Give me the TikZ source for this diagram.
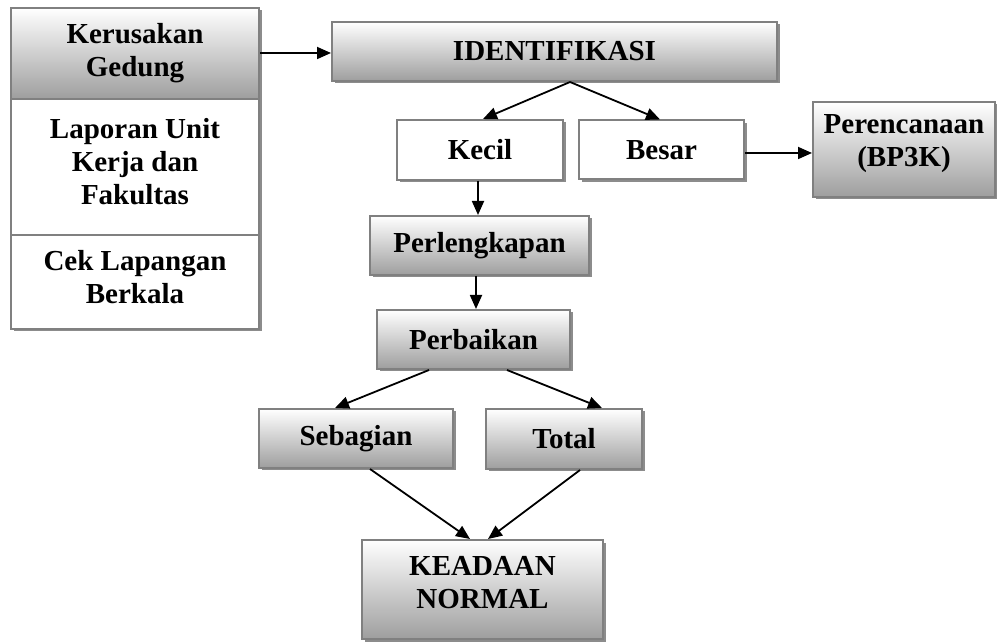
\documentclass[tikz,border=0pt]{standalone}
\usepackage{fontspec}
\setmainfont{Liberation Serif}
\usetikzlibrary{arrows.meta,calc}
% raise a centred block of lines inside a box, keeping its reported size
\newcommand\liftbox[2]{\raisebox{#1}[\height][\depth]{\begin{tabular}{@{}c@{}}#2\end{tabular}}}
\begin{document}
\begin{tikzpicture}[x=1pt,y=-1pt,
  every node/.style={font=\fontsize{29}{33}\selectfont\bfseries, align=center, inner sep=0pt},
  base/.style={draw=black!50, line width=2pt, rectangle,
    preaction={fill=black!45, transform canvas={xshift=2.5pt,yshift=-2.5pt}}},
  shadebox/.style={base, top color=white, bottom color=black!38},
  plainbox/.style={base, fill=white},
  arr/.style={draw=black, line width=1.8pt, -{Triangle[length=14pt,width=12pt]}}
]
\useasboundingbox (0,0) rectangle (997,644);

% left column: source of damage reports
\node[shadebox, minimum width=248pt, minimum height=91pt] (kg) at (135,53.5) {Kerusakan\\Gedung};
\node[plainbox, minimum width=248pt, minimum height=136pt] (lap) at (135,167) {\liftbox{2pt}{Laporan Unit\\Kerja dan\\Fakultas}};
\node[plainbox, minimum width=248pt, minimum height=94pt] (cek) at (135,282) {\liftbox{2pt}{Cek Lapangan\\Berkala}};

% main flow
\node[shadebox, minimum width=445pt, minimum height=59pt] (iden) at (554.5,51.5) {IDENTIFIKASI};
\node[plainbox, minimum width=166pt, minimum height=60pt] (kecil) at (480,150) {Kecil};
\node[plainbox, minimum width=165pt, minimum height=59pt] (besar) at (661.5,150) {Besar};
\node[shadebox, minimum width=182pt, minimum height=95pt] (per) at (904,149.5) {\liftbox{6pt}{Perencanaan\\(BP3K)}};
\node[shadebox, minimum width=219pt, minimum height=59pt] (perl) at (479.5,245.5) {Perlengkapan};
\node[shadebox, minimum width=193pt, minimum height=59pt] (perb) at (473.5,339.5) {Perbaikan};
\node[shadebox, minimum width=194pt, minimum height=59pt] (seb) at (356,438.5) {Sebagian};
\node[shadebox, minimum width=156pt, minimum height=60pt] (tot) at (564,439) {Total};
\node[shadebox, minimum width=241pt, minimum height=99pt] (kn) at (482.5,589.5) {\liftbox{4pt}{KEADAAN\\NORMAL}};

% connector end points on the box edges
\coordinate (kgA) at (kg.east |- 0,53);
\coordinate (idA) at (iden.west |- 0,53);
\coordinate (idB) at ($(iden.south)+(15.5,0)$);
\coordinate (keT) at ($(kecil.north)+(3,0)$);
\coordinate (beT) at ($(besar.north)+(-1.5,0)$);
\coordinate (beR) at (besar.east |- 0,153);
\coordinate (peL) at (per.west |- 0,153);
\coordinate (keB) at (kecil.south -| 478,0);
\coordinate (plT) at (perl.north -| 478,0);
\coordinate (plB) at (perl.south -| 476,0);
\coordinate (pbT) at (perb.north -| 476,0);
\coordinate (pbL) at (perb.south -| 429,0);
\coordinate (pbR) at (perb.south -| 507,0);
\coordinate (sbT) at (seb.north -| 335,0);
\coordinate (ttT) at (tot.north -| 602,0);
\coordinate (sbB) at (seb.south -| 370,0);
\coordinate (ttB) at (tot.south -| 580,0);
\coordinate (knL) at (kn.north -| 470,0);
\coordinate (knR) at (kn.north -| 488,0);

% connectors
\draw[arr] (kgA) -- (idA);
\draw[arr] (idB) -- (keT);
\draw[arr] (idB) -- (beT);
\draw[arr] (beR) -- (peL);
\draw[arr] (keB) -- (plT);
\draw[arr] (plB) -- (pbT);
\draw[arr] (pbL) -- (sbT);
\draw[arr] (pbR) -- (ttT);
\draw[arr] (sbB) -- (knL);
\draw[arr] (ttB) -- (knR);
\end{tikzpicture}
\end{document}
